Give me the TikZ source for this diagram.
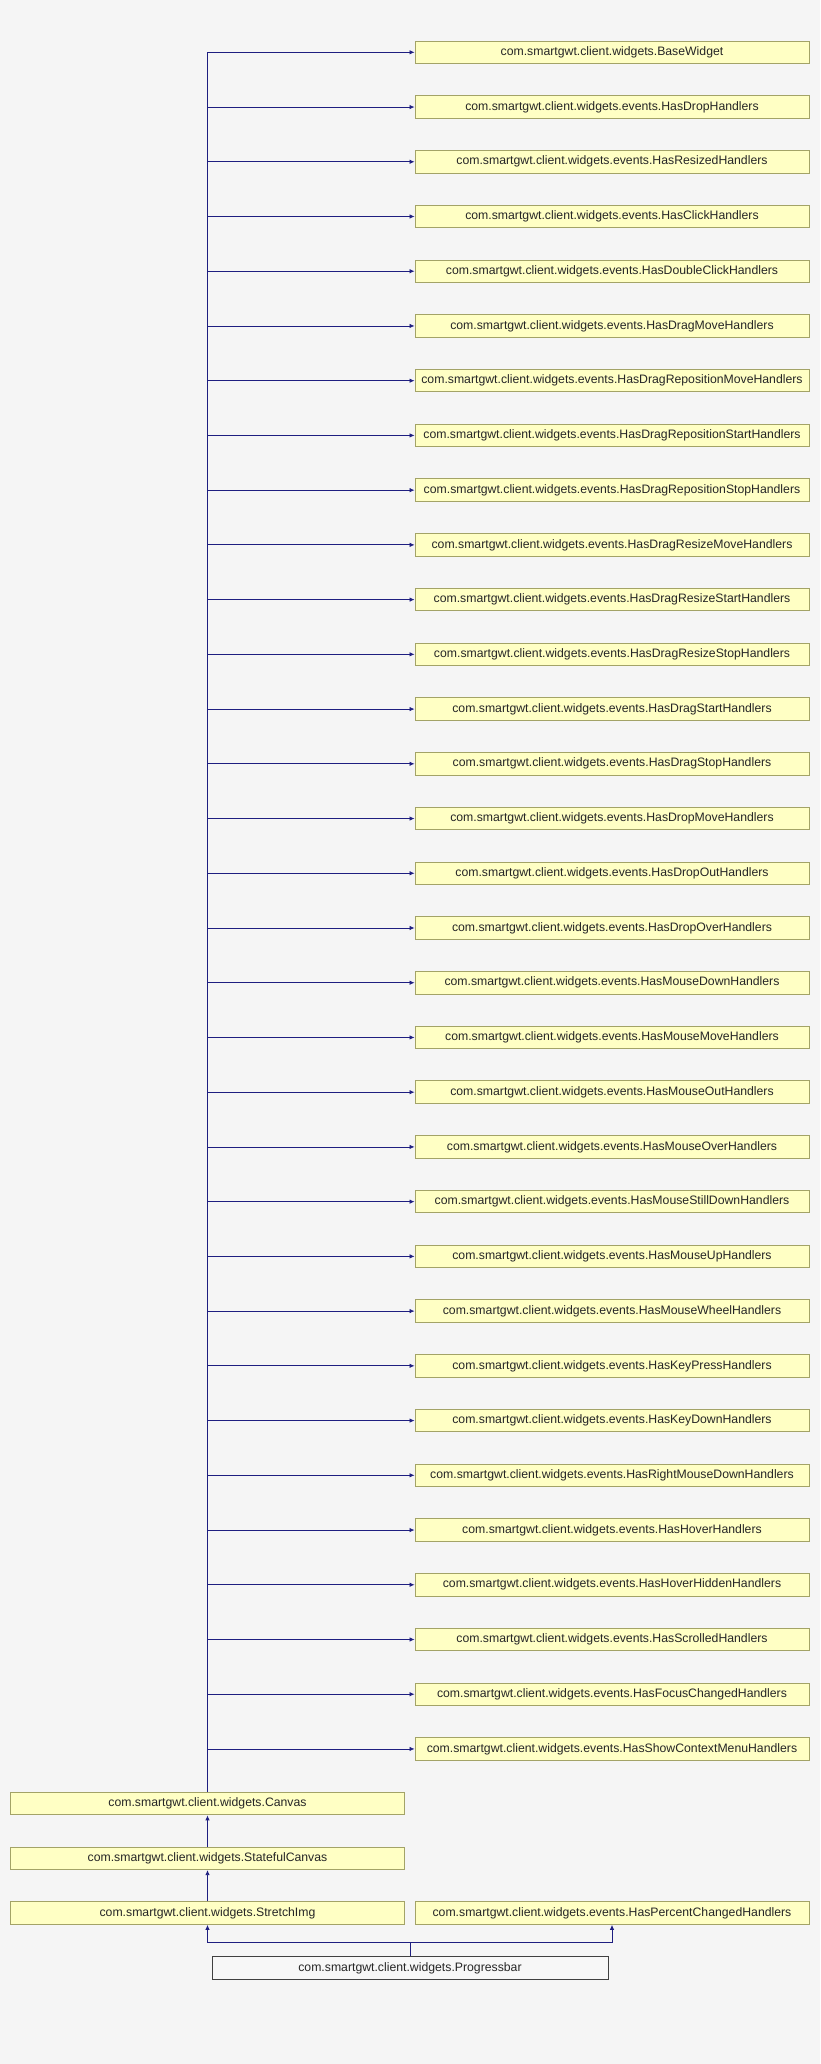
\documentclass[tikz,border=0pt]{standalone}
\usepackage{fontspec}
\setmainfont{Liberation Sans}
\usetikzlibrary{arrows.meta}
\definecolor{bgc}{HTML}{F5F5F5}
\definecolor{boxfill}{HTML}{FFFFC4}
\definecolor{boxline}{HTML}{A3A367}
\definecolor{edgec}{HTML}{1E1E80}
\definecolor{mainline}{HTML}{404040}
\begin{document}
\begin{tikzpicture}[x=1pt,y=1pt,
  cls/.style={draw=boxline, fill=boxfill, line width=0.9pt, minimum width=394pt, minimum height=22.5pt, inner sep=0pt, font=\fontsize{12.25}{14}\selectfont, text=black!85},
  mainc/.style={cls, draw=mainline, fill=white!97!black},
  inh/.style={draw=edgec, line width=0.8pt, -{Latex[length=5pt,width=4.5pt]}}]
\fill[bgc] (0,0) rectangle (820,-2064);
\useasboundingbox (0,0) rectangle (820,-2064);
\def\rowy#1{-52.3-#1*54.73}
\foreach \i/\n/\t in {
 0/n0/com.smartgwt.client.widgets.BaseWidget,
 1/n1/com.smartgwt.client.widgets.events.HasDropHandlers,
 2/n2/com.smartgwt.client.widgets.events.HasResizedHandlers,
 3/n3/com.smartgwt.client.widgets.events.HasClickHandlers,
 4/n4/com.smartgwt.client.widgets.events.HasDoubleClickHandlers,
 5/n5/com.smartgwt.client.widgets.events.HasDragMoveHandlers,
 6/n6/com.smartgwt.client.widgets.events.HasDragRepositionMoveHandlers,
 7/n7/com.smartgwt.client.widgets.events.HasDragRepositionStartHandlers,
 8/n8/com.smartgwt.client.widgets.events.HasDragRepositionStopHandlers,
 9/n9/com.smartgwt.client.widgets.events.HasDragResizeMoveHandlers,
 10/n10/com.smartgwt.client.widgets.events.HasDragResizeStartHandlers,
 11/n11/com.smartgwt.client.widgets.events.HasDragResizeStopHandlers,
 12/n12/com.smartgwt.client.widgets.events.HasDragStartHandlers,
 13/n13/com.smartgwt.client.widgets.events.HasDragStopHandlers,
 14/n14/com.smartgwt.client.widgets.events.HasDropMoveHandlers,
 15/n15/com.smartgwt.client.widgets.events.HasDropOutHandlers,
 16/n16/com.smartgwt.client.widgets.events.HasDropOverHandlers,
 17/n17/com.smartgwt.client.widgets.events.HasMouseDownHandlers,
 18/n18/com.smartgwt.client.widgets.events.HasMouseMoveHandlers,
 19/n19/com.smartgwt.client.widgets.events.HasMouseOutHandlers,
 20/n20/com.smartgwt.client.widgets.events.HasMouseOverHandlers,
 21/n21/com.smartgwt.client.widgets.events.HasMouseStillDownHandlers,
 22/n22/com.smartgwt.client.widgets.events.HasMouseUpHandlers,
 23/n23/com.smartgwt.client.widgets.events.HasMouseWheelHandlers,
 24/n24/com.smartgwt.client.widgets.events.HasKeyPressHandlers,
 25/n25/com.smartgwt.client.widgets.events.HasKeyDownHandlers,
 26/n26/com.smartgwt.client.widgets.events.HasRightMouseDownHandlers,
 27/n27/com.smartgwt.client.widgets.events.HasHoverHandlers,
 28/n28/com.smartgwt.client.widgets.events.HasHoverHiddenHandlers,
 29/n29/com.smartgwt.client.widgets.events.HasScrolledHandlers,
 30/n30/com.smartgwt.client.widgets.events.HasFocusChangedHandlers,
 31/n31/com.smartgwt.client.widgets.events.HasShowContextMenuHandlers}
 {\node[cls] (\n) at (612,{\rowy{\i}}) {\t};}
\node[cls] (canvas) at (207.5,{\rowy{32}}) {com.smartgwt.client.widgets.Canvas};
\node[cls] (stateful) at (207.5,{\rowy{33}}) {com.smartgwt.client.widgets.StatefulCanvas};
\node[cls] (stretch) at (207.5,{\rowy{34}}) {com.smartgwt.client.widgets.StretchImg};
\node[cls] (percent) at (612,{\rowy{34}}) {com.smartgwt.client.widgets.events.HasPercentChangedHandlers};
\node[mainc, minimum width=396pt] (pb) at (410,{\rowy{35}}) {com.smartgwt.client.widgets.Progressbar};
\foreach \k in {0,...,31}{\draw[inh] (canvas.north) |- (n\k.west);}
\draw[inh] (stateful.north) -- (canvas.south);
\draw[inh] (stretch.north) -- (stateful.south);
\coordinate (split) at (410,-1942);
\draw[inh] (pb.north) -- (split) -| (stretch.south);
\draw[inh] (split) -| (percent.south);
\end{tikzpicture}
\end{document}
